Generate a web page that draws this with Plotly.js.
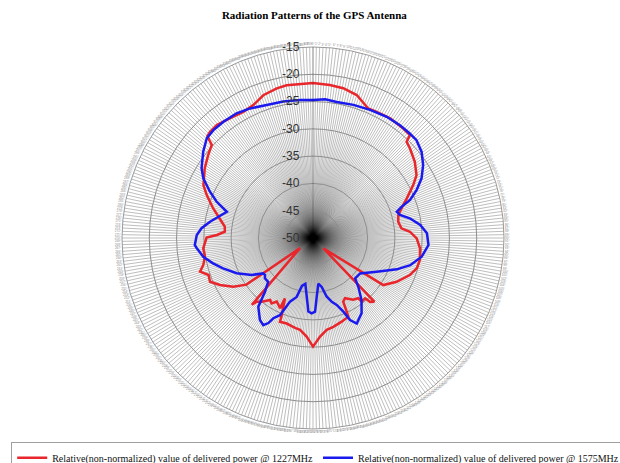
<!DOCTYPE html>
<html>
<head>
<meta charset="utf-8">
<script src="https://cdn.plot.ly/plotly-3.0.1.min.js"></script>
<style>
  html, body { margin: 0; padding: 0; background: #fff; }
  #chart { width: 620px; height: 463px; }
</style>
</head>
<body>
<div id="chart"></div>
<script>
// Measured delivered power (dB, relative) versus azimuth angle (deg, clockwise from zenith)
const theta1227 = [0, 6.3, 11.4, 17, 23.1, 26.8, 32.8, 39.5, 43.3, 44.2, 47.2, 53.2, 58.7, 62.1, 67, 71.5, 74.9, 79.2, 83.8, 86.3, 90.2, 95.5, 101.6, 106.3, 110.9, 117.6, 123.8, 135, 136.1, 138.2, 139.2, 142.6, 143.1, 146.9, 152, 154.6, 155.4, 155.8, 161.1, 167.1, 171.5, 175.9, 180, 183.7, 188, 191.3, 197.1, 201.5, 202.1, 204.9, 205.1, 209.7, 212.3, 214.7, 218.8, 221.5, 222.5, 232, 235, 238.6, 243.2, 247, 250.5, 253.4, 256.2, 260.2, 264.6, 270.2, 271.8, 274.1, 277.3, 280.1, 286.6, 292, 295.8, 302.8, 308.4, 312.6, 313.3, 314, 315.9, 319.6, 322.4, 326.7, 331.1, 335.8, 340.8, 346.4, 350.2, 360];
const power1227 = [-21.6, -21.8, -22.0, -22.6, -24.2, -24.1, -23.9, -24.0, -24.1, -25.4, -25.8, -26.7, -27.8, -29.2, -31.3, -32.9, -33.8, -34.1, -33.7, -32.2, -31.0, -30.3, -30.0, -30.2, -31.0, -32.7, -34.5, -47.3, -33.8, -34.3, -35.4, -35.3, -36.2, -36.5, -37.5, -37.1, -35.2, -34.2, -33.8, -33.3, -33.0, -31.9, -30.1, -31.9, -33.0, -33.2, -33.6, -33.5, -34.8, -37.8, -35.8, -36.6, -35.8, -36.2, -35.0, -34.4, -33.4, -47.0, -35.1, -32.9, -30.9, -29.5, -29.7, -28.4, -29.3, -29.9, -29.8, -30.5, -32.4, -33.8, -33.7, -33.0, -30.9, -29.0, -27.7, -26.4, -25.5, -24.8, -23.9, -23.1, -22.9, -22.8, -23.1, -23.4, -23.6, -23.3, -22.3, -21.8, -21.6, -21.6];

const theta1575 = [0, 5, 9.9, 16.9, 24, 31.3, 37.6, 42.8, 46.6, 51.6, 56.5, 61.2, 65.2, 68.6, 70.6, 72.6, 75.2, 78.5, 83.1, 87.6, 93.5, 99.8, 105.6, 110.5, 117.9, 126.9, 133.8, 137.1, 141.9, 147.1, 152.9, 155.7, 157.6, 160.5, 163.6, 166.9, 169.9, 173.3, 176.4, 178.4, 181, 183.6, 186.1, 189.5, 193, 195.5, 199.9, 201.7, 203.2, 206.3, 207.7, 209.7, 212.9, 218.5, 221.8, 225.6, 230, 232.4, 234.6, 238.9, 245.2, 251.3, 255.8, 260.3, 265.1, 266.6, 271.5, 275, 279, 284.1, 286.9, 288.3, 290.7, 294.2, 298.6, 302.1, 308.2, 313.2, 317.3, 322.4, 328.5, 334.1, 340.8, 347.7, 354.6, 360];
const power1575 = [-24.7, -24.5, -24.7, -24.5, -24.3, -24.0, -23.9, -23.9, -23.9, -24.6, -25.8, -27.3, -29.1, -30.9, -32.8, -33.9, -33.5, -31.9, -30.2, -29.1, -28.8, -29.8, -31.5, -33.6, -36.8, -39.2, -39.3, -37.8, -35.6, -33.6, -32.4, -33.5, -35.4, -37.0, -37.8, -39.0, -40.9, -41.6, -39.2, -36.5, -36.2, -36.5, -39.2, -41.5, -41.0, -38.8, -37.6, -36.1, -34.6, -33.6, -32.4, -31.6, -32.1, -33.9, -36.8, -38.5, -38.5, -38.9, -38.8, -36.9, -34.6, -32.6, -31.1, -29.6, -28.6, -28.3, -28.7, -29.5, -30.9, -32.7, -33.5, -32.7, -31.1, -29.3, -27.1, -25.9, -24.4, -23.3, -23.1, -23.1, -23.2, -23.6, -24.2, -24.4, -24.6, -24.7];

// Radial scale ticks
const radialTicks = [-50, -45, -40, -35, -30, -25, -20, -15];
const radialTickText = ['-50', '-45', '-40', '-35', '-30', '-25', '-20', '-15'];

const seriesNames = [
  'Relative(non-normalized) value of delivered power @ 1227MHz',
  'Relative(non-normalized) value of delivered power @ 1575MHz'
];

const traces = [
  {
    type: 'scatterpolar', mode: 'lines',
    name: seriesNames[0],
    theta: theta1227, r: power1227,
    line: { color: '#e8262b', width: 2.5 }
  },
  {
    type: 'scatterpolar', mode: 'lines',
    name: seriesNames[1],
    theta: theta1575, r: power1575,
    line: { color: '#1a1aee', width: 2.5 }
  }
];

const layout = {
  width: 620, height: 463,
  paper_bgcolor: '#ffffff',
  margin: { l: 13, r: 7, t: 47, b: 34, autoexpand: false },
  title: {
    text: '<b>Radiation Patterns of the GPS Antenna</b>',
    font: { family: 'Liberation Serif, serif', size: 11, color: '#000' },
    x: 0.507, xanchor: 'center', y: 0.967, yanchor: 'middle'
  },
  showlegend: true,
  legend: {
    orientation: 'h',
    x: -0.003, xanchor: 'left',
    y: -0.035, yanchor: 'top',
    bgcolor: '#ffffff',
    bordercolor: '#a0a0a0', borderwidth: 1,
    itemwidth: 30,
    font: { family: 'Liberation Serif, serif', size: 10, color: '#111' }
  },
  polar: {
    domain: { x: [0, 1], y: [0, 1] },
    bgcolor: '#ffffff',
    radialaxis: {
      range: [-50, -15],
      angle: 90,
      side: 'counterclockwise',
      tickangle: 90,
      tickmode: 'array',
      tickvals: radialTicks,
      ticktext: radialTickText,
      ticks: 'outside',
      ticklen: 9,
      tickcolor: 'rgba(0,0,0,0)',
      showline: true,
      linecolor: 'rgba(0,0,0,0.25)',
      linewidth: 1,
      gridcolor: '#8e8e8e',
      gridwidth: 1,
      tickfont: { family: 'Liberation Sans, Arial, sans-serif', size: 12, color: '#333' }
    },
    angularaxis: {
      rotation: 90,
      direction: 'clockwise',
      tickmode: 'linear',
      tick0: 0,
      dtick: 1,
      ticks: '',
      showline: true,
      linecolor: '#9a9a9a',
      linewidth: 1,
      gridcolor: 'rgba(0,0,0,0.26)',
      gridwidth: 1,
      tickfont: { family: 'Liberation Sans, sans-serif', size: 3, color: '#8a8a8a' }
    }
  }
};

Plotly.newPlot('chart', traces, layout, { displayModeBar: false, staticPlot: true });
</script>
</body>
</html>
